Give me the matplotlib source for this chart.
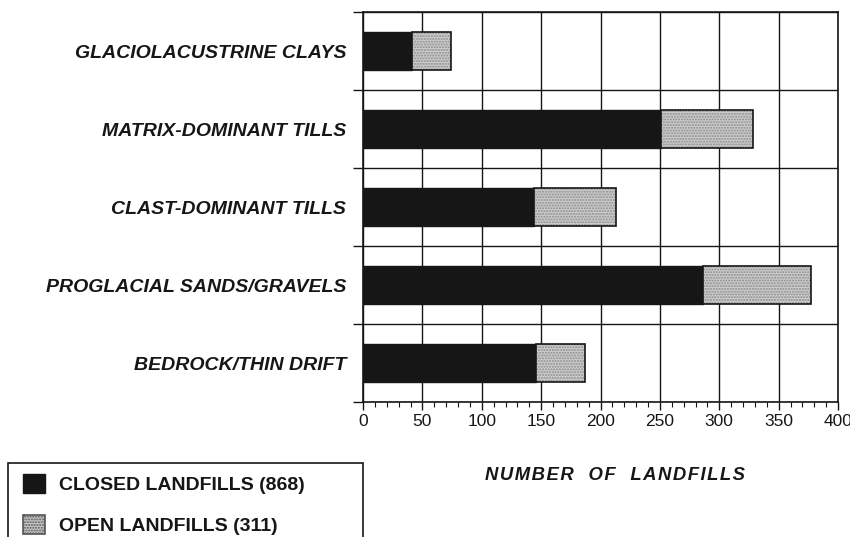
import numpy as np
import matplotlib.pyplot as plt
from matplotlib.patches import Rectangle

plt.rcParams['font.family'] = ['Liberation Sans', 'DejaVu Sans']

# data, top to bottom
categories = ['GLACIOLACUSTRINE CLAYS', 'MATRIX-DOMINANT TILLS', 'CLAST-DOMINANT TILLS',
              'PROGLACIAL SANDS/GRAVELS', 'BEDROCK/THIN DRIFT']
closed = [41, 251, 144, 286, 146]
opened = [33, 77, 69, 91, 41]
legend_labels = ['CLOSED LANDFILLS (868)', 'OPEN LANDFILLS (311)']
xticks = [0, 50, 100, 150, 200, 250, 300, 350, 400]
xlabel = 'NUMBER  OF  LANDFILLS'

ink = '#161616'
fig = plt.figure(figsize=(8.5, 5.37), dpi=100)
ax = fig.add_axes([363 / 850, 1 - 402 / 537, 475 / 850, 390 / 537])

y = np.arange(len(categories))[::-1]
b1 = ax.barh(y, closed, height=0.49, color=ink, edgecolor=ink, linewidth=1, zorder=3)
# stippled grey for open landfills: hatch layer then outline layer
ax.barh(y, opened, left=closed, height=0.49, color='#cdcdcd', edgecolor='#8a8a8a',
        hatch='......', linewidth=0, zorder=3)
b2 = ax.barh(y, opened, left=closed, height=0.49, color='none', edgecolor=ink,
             linewidth=1.2, zorder=4)

ax.set_xlim(0, 400)
ax.set_ylim(-0.5, len(categories) - 0.5)
ax.set_xticks(xticks)
ax.set_xticklabels([str(t) for t in xticks])
ax.set_xticks(np.arange(0, 401, 10), minor=True)
ax.set_yticks(np.arange(-0.5, len(categories), 1.0))
ax.set_yticklabels([])
ax.set_yticks(y, minor=True)
ax.set_yticklabels(categories, minor=True, fontsize=14, fontweight='bold',
                   fontstyle='italic', color=ink)
ax.tick_params(axis='y', which='major', length=7.5, width=1, color=ink)
ax.tick_params(axis='y', which='minor', length=0, pad=12)
ax.tick_params(axis='x', which='major', length=6, width=1, color=ink, labelsize=12.5, pad=3,
               labelcolor=ink)
ax.tick_params(axis='x', which='minor', length=3.5, width=0.8, color=ink)

ax.grid(True, which='major', color=ink, linewidth=1)
ax.set_axisbelow(True)
for s in ax.spines.values():
    s.set_color(ink)
    s.set_linewidth(1.2)

# spread the letters a little, like the original lettering
spaced = '\u200a'.join(xlabel)
ax.set_xlabel(spaced, fontsize=13.3, fontweight='bold', fontstyle='italic', color=ink)
ax.xaxis.set_label_coords((615 - 363) / 475, -73 / 390)
ax.xaxis.label.set_va('center')

# legend box runs off the bottom of the page
fig.patches.append(Rectangle((8 / 850, -0.05), 355 / 850, 0.05 + 1 - 463 / 537,
                             transform=fig.transFigure, fill=False, edgecolor=ink,
                             linewidth=1.2))
fig.legend([b1, b2], legend_labels, loc='upper left', bbox_to_anchor=(5 / 850, 1 - 456 / 537),
           frameon=False, handlelength=1.15, handleheight=1.15, handletextpad=0.75,
           labelspacing=1.1, prop={'weight': 'bold', 'size': 14}, labelcolor=ink)
lg = fig.legends[0]
for h in lg.legend_handles:
    h.set_facecolor(ink)
lg.legend_handles[1].set_facecolor('#c8c8c8')
lg.legend_handles[1].set_hatch('......')
lg.legend_handles[1].set_edgecolor('#555555')

fig.savefig('out.png', dpi=100)
